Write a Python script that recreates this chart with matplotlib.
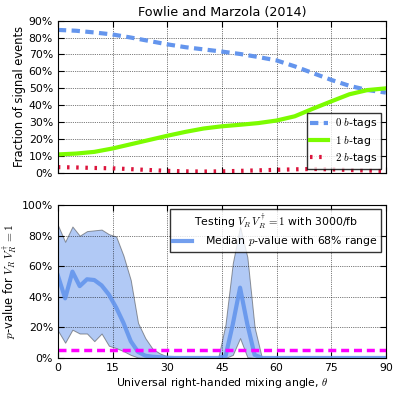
import numpy as np
import matplotlib
matplotlib.use("Agg")
import matplotlib.pyplot as plt
from matplotlib.ticker import FuncFormatter

plt.rcParams['mathtext.fontset'] = 'cm'
plt.rcParams['font.size'] = 7.8

# Top panel: fraction of signal events by number of b-tags
theta_top = [0, 5, 10, 15, 20, 25, 30, 35, 40, 45, 50, 55, 60, 65, 70, 75, 80, 85, 90]
zero_b = [84.5, 84, 83, 81.8, 80, 78, 76, 74.3, 73, 71.7, 70.3, 68.5, 66.5, 63, 59, 55, 51.5, 49, 47.5]
one_b = [11, 11.5, 12.5, 14.5, 17, 19.5, 22, 24.3, 26.3, 27.6, 28.5, 29.5, 31, 33.5, 38, 42.3, 46.5, 49, 50]
two_b = [3.5, 3.3, 3, 2.8, 2.3, 1.8, 1.3, 1, 0.9, 1, 1.3, 1.6, 1.9, 2.2, 2.4, 2.2, 1.8, 1.5, 1.2]

# Bottom panel: p-value median and 68% range
theta_bot = list(range(0, 92, 2))
p_upper = [87, 76, 86, 80, 83, 83.5, 84, 81, 79.5, 67, 51, 23, 13, 6, 3, 1, 0.3,
           0, 0, 0, 0, 0, 0, 22, 62, 86, 66, 20, 0,
           0, 0, 0, 0, 0, 0, 0, 0, 0, 0, 0, 0, 0, 0, 0, 0, 0]
p_lower = [18, 10, 18.5, 16, 16, 11, 16, 8, 6.5, 4.5, 2, 0.3, 0,
           0, 0, 0, 0, 0, 0, 0, 0, 0, 0, 0, 2, 13, 0.5, 0, 0,
           0, 0, 0, 0, 0, 0, 0, 0, 0, 0, 0, 0, 0, 0, 0, 0, 0]
p_median = [54, 39, 56.5, 47, 51.5, 51, 47.5, 41.5, 33, 23, 11, 4, 1.5, 0.8, 0.5, 0.2,
            0, 0, 0, 0, 0, 0, 0, 1, 22, 46, 22, 2, 0,
            0, 0, 0, 0, 0, 0, 0, 0, 0, 0, 0, 0, 0, 0, 0, 0, 0]
p_threshold = 5

pct = FuncFormatter(lambda v, pos: '%d%%' % v)


def style_axes(ax):
    ax.grid(True, color='black', linestyle=':', linewidth=0.5)
    ax.tick_params(direction='in', top=True, right=True, length=4, labelsize=7.8)
    ax.set_xlim(0, 90)
    ax.set_xticks(range(0, 91, 15))
    ax.yaxis.set_major_formatter(pct)


fig = plt.figure(figsize=(3.99, 3.96), dpi=100)
ax1 = fig.add_axes([0.145, 0.563, 0.822, 0.385])
ax2 = fig.add_axes([0.145, 0.096, 0.822, 0.386])

# top panel
ax1.plot(theta_top, zero_b, color='cornflowerblue', lw=3, ls=(0, (2, 1.3)), label='$0$ $b$-tags')
ax1.plot(theta_top, one_b, color='lawngreen', lw=3, label='$1$ $b$-tag')
ax1.plot(theta_top, two_b, color='crimson', lw=3, ls=(0, (0.6, 1.6)), label='$2$ $b$-tags')
style_axes(ax1)
ax1.set_ylim(0, 90)
ax1.set_yticks(range(0, 91, 10))
ax1.set_xticklabels([])
ax1.set_ylabel('Fraction of signal events', fontsize=8.3, labelpad=2)
ax1.set_title('Fowlie and Marzola (2014)', fontsize=9.2, pad=3)
leg1 = ax1.legend(loc='lower right', fontsize=7.8, fancybox=False, edgecolor='black',
                  handlelength=1.6, handletextpad=0.7, borderpad=0.35, labelspacing=0.3,
                  borderaxespad=0.4)
leg1.get_frame().set_linewidth(1)

# bottom panel
ax2.fill_between(theta_bot, p_lower, p_upper, facecolor='cornflowerblue', alpha=0.5,
                 edgecolor='#333333', linewidth=0.7)
ax2.plot(theta_bot, p_median, color='cornflowerblue', lw=3, alpha=0.9,
         label='Median $p$-value with 68% range')
ax2.axhline(p_threshold, color='magenta', lw=2.5, ls=(0, (2.3, 1.4)))
style_axes(ax2)
ax2.set_ylim(0, 100)
ax2.set_yticks(range(0, 101, 20))
ax2.set_ylabel(r'$p$-value for $V_R\,V_R^\dagger=1$', fontsize=8.3, labelpad=2)
ax2.set_xlabel(r'Universal right-handed mixing angle, $\theta$', fontsize=7.8, labelpad=2)
leg2 = ax2.legend(loc='upper right', fontsize=7.8, title=r'Testing $V_R\,V_R^\dagger=1$ with 3000/fb',
                  title_fontsize=7.8, fancybox=False, edgecolor='black', handlelength=1.8,
                  handletextpad=1.2, borderpad=0.3, labelspacing=0.2, framealpha=0.8,
                  borderaxespad=0.4)
leg2.get_frame().set_linewidth(1)

fig.savefig('out.png', dpi=100, facecolor='white')
